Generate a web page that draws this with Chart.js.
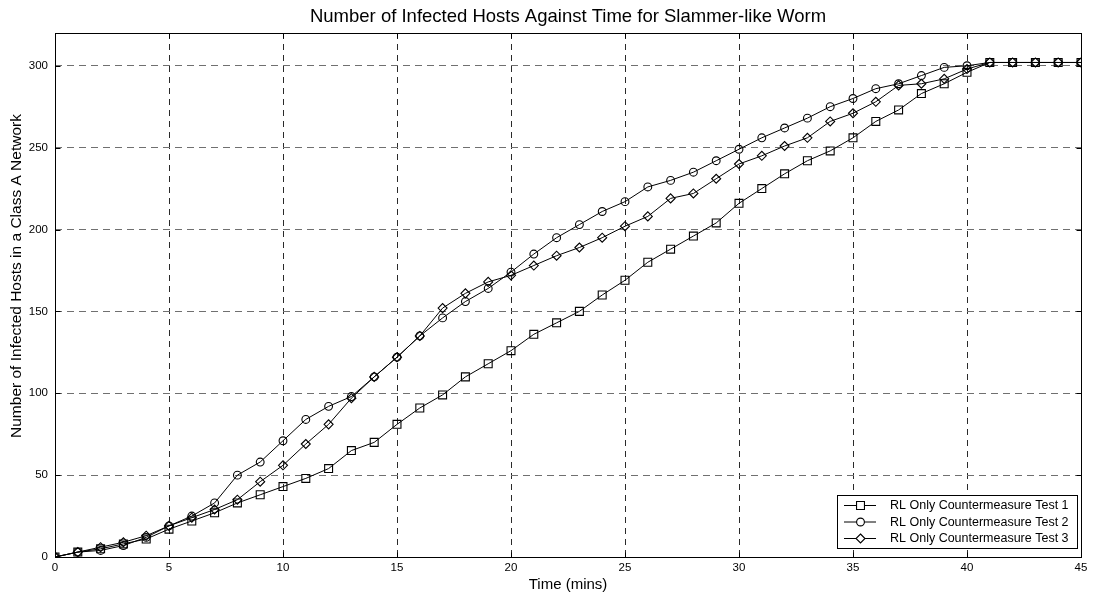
<!DOCTYPE html>
<html>
<head>
<meta charset="utf-8">
<script src="https://cdn.jsdelivr.net/npm/chart.js@4.4.1/dist/chart.umd.min.js"></script>
<style>
  html, body { margin: 0; padding: 0; background: #ffffff; }
  #wrap { width: 1093px; height: 597px; }
</style>
</head>
<body>
<div id="wrap"><canvas id="c" width="1093" height="597"></canvas></div>
<script>
// ---- data ----
const timeMins = [0,1,2,3,4,5,6,7,8,9,10,11,12,13,14,15,16,17,18,19,20,21,22,23,24,25,26,27,28,29,30,31,32,33,34,35,36,37,38,39,40,41,42,43,44,45];
const test1 = [0,3,5,8,11,17,22,27,33,38,43,48,54,65,70,81,91,99,110,118,126,136,143,150,160,169,180,188,196,204,216,225,234,242,248,256,266,273,283,289,296,302,302,302,302,302];
const test2 = [0,3,4,7,12,19,25,33,50,58,71,84,92,98,110,122,135,146,156,164,174,185,195,203,211,217,226,230,235,242,249,256,262,268,275,280,286,289,294,299,300,302,302,302,302,302];
const test3 = [0,3,6,9,13,19,24,29,35,46,56,69,81,97,110,122,135,152,161,168,172,178,184,189,195,202,208,219,222,231,240,245,251,256,266,271,278,288,289,292,298,302,302,302,302,302];
const seriesNames = ["RL Only Countermeasure Test 1", "RL Only Countermeasure Test 2", "RL Only Countermeasure Test 3"];
const xTicks = [0,5,10,15,20,25,30,35,40,45];
const yTicks = [0,50,100,150,200,250,300];
const titleText = "Number of Infected Hosts Against Time for Slammer-like Worm";
const xTitle = "Time (mins)";
const yTitle = "Number of Infected Hosts in a Class A Network";

const FONT = "'Liberation Sans', Arial, Helvetica, sans-serif";

function toPoints(arr) { return timeMins.map((t, i) => ({ x: t, y: arr[i] })); }

const styles = [
  { pointStyle: 'rect', pointRadius: 5.6 },
  { pointStyle: 'circle', pointRadius: 3.9 },
  { pointStyle: 'rectRot', pointRadius: 4.5 }
];
const allSeries = [test1, test2, test3];

const datasets = allSeries.map((s, i) => ({
  label: seriesNames[i],
  data: toPoints(s),
  borderColor: '#000',
  borderWidth: 1,
  backgroundColor: 'rgba(0,0,0,0)',
  pointStyle: styles[i].pointStyle,
  pointRadius: styles[i].pointRadius,
  pointHoverRadius: styles[i].pointRadius,
  pointBorderColor: '#000',
  pointBackgroundColor: 'rgba(0,0,0,0)',
  pointBorderWidth: 1.1,
  tension: 0,
  fill: false
}));

// frame, inward ticks, titles and legend
const framePlugin = {
  id: 'frame',
  beforeDatasetsDraw(chart) {
    const { ctx, chartArea: a, scales } = chart;
    const L = Math.round(a.left) + 0.5, R = Math.round(a.right) + 0.5;
    const T = Math.round(a.top) + 0.5, B = Math.round(a.bottom) + 0.5;
    ctx.save();
    ctx.setLineDash([]);
    ctx.strokeStyle = '#000';
    ctx.lineWidth = 1;
    ctx.strokeRect(L, T, R - L, B - T);
    ctx.beginPath();
    const tl = 5;
    xTicks.forEach(v => {
      const px = Math.round(scales.x.getPixelForValue(v)) + 0.5;
      ctx.moveTo(px, B); ctx.lineTo(px, B - tl);
      ctx.moveTo(px, T); ctx.lineTo(px, T + tl);
    });
    yTicks.forEach(v => {
      const py = Math.round(scales.y.getPixelForValue(v)) + 0.5;
      ctx.moveTo(L, py); ctx.lineTo(L + tl, py);
      ctx.moveTo(R, py); ctx.lineTo(R - tl, py);
    });
    ctx.stroke();
    ctx.restore();
  },
  afterDraw(chart) {
    const { ctx, chartArea: a } = chart;
    ctx.save();
    ctx.fillStyle = '#000';
    // chart title, centred over the plot box
    ctx.font = '18.5px ' + FONT;
    ctx.textAlign = 'center';
    ctx.textBaseline = 'middle';
    ctx.fillText(titleText, (a.left + a.right) / 2, 17);
    // y-axis title
    ctx.font = '15.5px ' + FONT;
    ctx.translate(17, 276);
    ctx.rotate(-Math.PI / 2);
    ctx.fillText(yTitle, 0, 0);
    ctx.restore();

    // legend
    ctx.save();
    const bx = 837.5, by = 495.5, bw = 240, bh = 53;
    ctx.fillStyle = '#fff';
    ctx.fillRect(bx, by, bw, bh);
    ctx.strokeStyle = '#000';
    ctx.lineWidth = 1;
    ctx.setLineDash([]);
    ctx.strokeRect(bx, by, bw, bh);
    const rows = [505.5, 522, 538.5];
    ctx.font = '12.5px ' + FONT;
    ctx.textAlign = 'left';
    ctx.textBaseline = 'middle';
    rows.forEach((ry, i) => {
      ctx.beginPath();
      ctx.moveTo(844, ry); ctx.lineTo(876, ry);
      ctx.stroke();
      const mx = 860.5;
      ctx.beginPath();
      if (i === 0) {
        const h = styles[0].pointRadius * Math.SQRT1_2;
        ctx.rect(mx - h, ry - h, 2 * h, 2 * h);
      } else if (i === 1) {
        ctx.arc(mx, ry, styles[1].pointRadius, 0, Math.PI * 2);
      } else {
        const r = styles[2].pointRadius;
        ctx.moveTo(mx, ry - r); ctx.lineTo(mx + r, ry); ctx.lineTo(mx, ry + r); ctx.lineTo(mx - r, ry); ctx.closePath();
      }
      ctx.fillStyle = '#fff';
      ctx.fill();
      ctx.lineWidth = 1.1;
      ctx.stroke();
      ctx.lineWidth = 1;
      ctx.fillStyle = '#000';
      ctx.fillText(seriesNames[i], 890, ry + 0.5);
    });
    ctx.restore();
  }
};

new Chart(document.getElementById('c'), {
  type: 'line',
  data: { datasets },
  plugins: [framePlugin],
  options: {
    responsive: false,
    animation: false,
    devicePixelRatio: 1,
    layout: { padding: { left: 0, right: 12, top: 33, bottom: 0 } },
    plugins: {
      legend: { display: false },
      tooltip: { enabled: false },
      title: { display: false }
    },
    scales: {
      x: {
        type: 'linear',
        min: 0, max: 45,
        afterFit(scale) { scale.height = 40; },
        ticks: {
          stepSize: 5,
          color: '#000',
          font: { family: FONT, size: 11.5 },
          padding: 4,
          maxRotation: 0
        },
        grid: {
          color: '#2a2a2a',
          lineWidth: 1,
          drawTicks: false
        },
        border: { display: false, dash: [6, 5] },
        title: {
          display: true,
          text: xTitle,
          color: '#000',
          font: { family: FONT, size: 15, lineHeight: 1.2 },
          padding: { top: 0, bottom: 3 }
        }
      },
      y: {
        type: 'linear',
        min: 0, max: 320,
        afterFit(scale) { scale.width = 55; },
        ticks: {
          stepSize: 50,
          includeBounds: false,
          color: '#000',
          font: { family: FONT, size: 11.5 },
          padding: 7
        },
        grid: {
          color: '#707070',
          lineWidth: 1,
          drawTicks: false
        },
        border: { display: false, dash: [7, 5] }
      }
    }
  }
});
</script>
</body>
</html>
